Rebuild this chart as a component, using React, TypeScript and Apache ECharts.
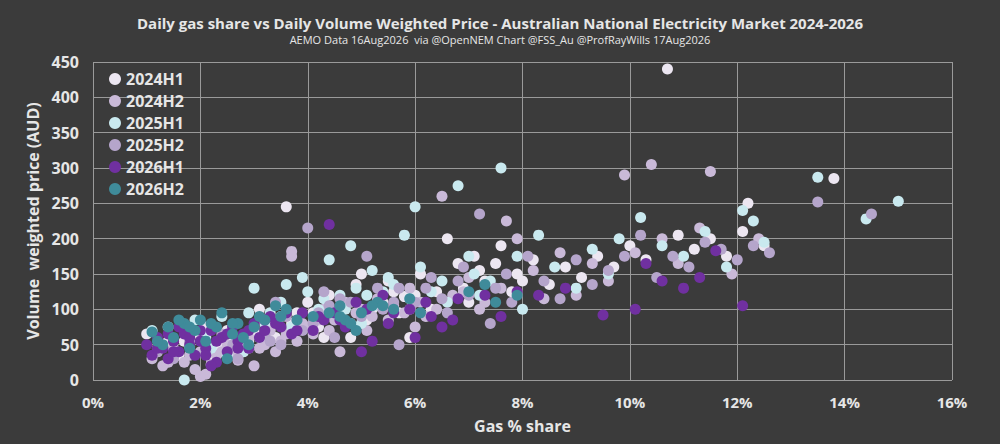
import React, { useRef, useEffect } from 'react';
import * as echarts from 'echarts';

const seriesNames = ['2024H1', '2024H2', '2025H1', '2025H2', '2026H1', '2026H2'];
const seriesColors = ['#ece6f1', '#c9b9d8', '#c9e9ef', '#b5a5cb', '#7030a0', '#3f8b9a'];

// [gas share %, price AUD]
const d2024H1 = [[1.2,40],[1.4,55],[1.6,35],[1.8,48],[2.0,62],[2.2,30],[2.4,45],[2.6,55],[2.8,40],[3.0,70],[3.2,85],[3.4,60],[3.6,245],[3.8,95],[4.0,110],[4.2,75],[4.4,120],[4.6,90],[4.9,135],[5.2,100],[5.5,140],[5.8,118],[6.1,150],[6.4,125],[6.8,165],[7.1,175],[7.3,140],[7.6,190],[7.9,150],[8.2,170],[8.5,135],[8.8,160],[9.1,145],[9.4,175],[9.7,160],[10.0,190],[10.3,170],[10.7,440],[10.9,205],[11.2,185],[11.5,200],[11.8,175],[12.1,210],[12.2,250],[12.5,190],[5.0,150],[6.6,200],[2.1,75],[1.0,65],[4.8,60],[13.8,285],
  [2.5,70],[2.9,55],[3.3,75],[3.7,80],[4.1,95],[4.3,60],[4.7,105],[5.1,85],[5.4,110],[5.7,95],[6.0,120],[6.3,100],[6.9,130],[7.2,155],[7.5,165],[7.8,125],[3.1,100],[3.5,90],[1.7,55],[2.3,50],[5.9,60],[5.6,125],[7.0,110],[8.0,140]];
const d2024H2 = [[1.1,30],[1.3,20],[1.5,45],[1.7,25],[1.9,15],[2.0,5],[2.1,8],[2.3,35],[2.5,50],[2.7,28],[2.9,60],[3.1,45],[3.3,70],[3.5,55],[3.7,175],[3.7,182],[3.9,80],[4.1,65],[4.3,100],[4.5,85],[4.7,110],[4.9,95],[5.1,70],[5.3,115],[5.6,105],[5.9,130],[6.2,90],[6.5,260],[6.7,120],[7.0,145],[7.3,110],[7.6,130],[7.7,225],[7.9,200],[8.2,155],[8.4,115],[8.7,180],[9.0,120],[9.3,165],[9.6,140],[9.9,290],[10.1,180],[10.4,305],[10.6,200],[10.9,165],[11.3,215],[11.5,295],[11.9,150],[12.4,200],[3.0,20],[4.6,40],[6.0,75],
  [1.4,25],[1.8,35],[2.2,22],[2.4,40],[2.6,38],[2.8,45],[3.2,50],[3.4,40],[3.6,65],[3.8,55],[4.0,75],[4.2,85],[4.4,70],[4.8,80],[5.0,100],[5.2,90],[5.5,85],[5.8,95],[6.1,110],[6.4,100],[6.9,125],[7.2,100],[1.2,45],[2.0,40]];
const d2025H1 = [[1.1,70],[1.4,75],[1.7,0],[1.9,85],[2.1,60],[2.4,90],[2.6,50],[2.9,95],[3.2,80],[3.5,110],[3.6,135],[3.9,145],[4.2,100],[4.4,170],[4.6,120],[4.8,190],[5.2,155],[5.4,125],[5.8,205],[6.0,245],[6.1,160],[6.5,140],[6.8,275],[7.0,175],[7.2,120],[7.6,300],[7.9,175],[8.3,205],[8.6,160],[9.0,130],[9.3,185],[9.6,150],[9.8,200],[10.2,230],[10.6,190],[11.0,175],[11.4,210],[11.8,160],[12.1,240],[12.3,225],[12.5,195],[13.5,287],[14.4,228],[15.0,253],[5.0,80],[3.0,130],[8.0,100],
  [2.8,40],[3.3,95],[3.7,75],[4.0,125],[4.3,115],[4.5,95],[4.9,130],[5.1,120],[5.3,105],[5.6,135],[5.9,115],[6.3,125],[6.6,110],[7.1,150],[7.4,140],[2.5,35],[2.2,45],[3.1,60],[4.7,100],[5.5,145]];
const d2025H2 = [[1.2,40],[1.5,30],[1.8,55],[2.1,40],[2.4,65],[2.7,30],[3.0,75],[3.3,55],[3.6,90],[3.9,70],[4.2,95],[4.5,60],[4.8,110],[5.1,175],[5.4,100],[5.7,130],[6.0,110],[6.3,145],[6.6,95],[6.9,160],[7.2,235],[7.5,130],[7.8,110],[8.1,175],[8.4,140],[8.7,115],[9.0,170],[9.3,135],[9.6,155],[9.9,175],[10.2,205],[10.5,145],[10.8,175],[11.1,160],[11.4,195],[11.7,185],[12.0,170],[12.3,190],[12.6,180],[5.7,50],[4.0,215],[7.4,80],[13.5,252],[14.5,235],
  [2.6,50],[2.9,45],[3.2,65],[3.5,50],[3.8,85],[4.1,80],[4.4,105],[4.6,115],[5.0,90],[5.3,130],[5.6,110],[5.9,100],[6.2,130],[6.5,115],[6.8,140],[7.0,120],[7.7,150],[3.4,110],[4.3,125]];
const d2026H1 = [[1.0,50],[1.1,35],[1.2,60],[1.3,45],[1.4,30],[1.5,55],[1.6,40],[1.7,65],[1.8,50],[1.9,35],[2.0,55],[2.1,45],[2.2,70],[2.3,25],[2.4,60],[2.5,40],[2.6,75],[2.7,55],[2.8,65],[2.9,45],[3.0,80],[3.1,60],[3.2,70],[3.3,90],[3.5,75],[3.7,65],[3.9,95],[4.1,70],[4.3,85],[4.4,220],[4.5,95],[4.7,75],[4.9,110],[5.0,40],[5.2,55],[5.4,120],[5.6,95],[5.9,100],[6.0,60],[6.2,110],[6.5,75],[6.8,115],[7.3,120],[7.6,90],[7.9,125],[8.3,120],[8.8,130],[9.5,92],[10.1,100],[10.3,165],[10.6,140],[11.0,130],[11.3,145],[11.6,183],[12.1,105],[1.6,75],[2.2,20],
  [1.2,45],[1.4,65],[1.5,40],[1.8,60],[2.0,70],[2.1,35],[2.3,55],[2.5,65],[2.7,45],[2.9,70],[3.2,85],[3.4,80],[3.6,95],[3.8,70],[4.2,90],[4.6,85],[5.1,100],[5.5,80],[6.3,90],[6.7,85]];
const d2026H2 = [[1.1,68],[1.3,50],[1.4,75],[1.5,60],[1.7,80],[1.8,45],[1.9,70],[2.0,85],[2.1,55],[2.3,75],[2.4,95],[2.6,65],[2.7,80],[2.9,50],[3.0,75],[3.2,85],[3.4,105],[3.6,100],[3.8,85],[4.1,90],[4.4,95],[4.6,105],[4.7,85],[4.9,70],[5.0,95],[5.3,110],[5.6,100],[5.9,115],[6.1,95],[7.0,125],[7.3,135],[7.5,110],[7.9,120],[2.5,30],
  [1.6,85],[1.8,75],[2.2,80],[2.6,80],[3.1,90],[3.5,90],[4.6,90],[4.8,80],[5.2,105],[5.4,105],[1.2,55],[2.8,60]];

const allData = [d2024H1, d2024H2, d2025H1, d2025H2, d2026H1, d2026H2];

const App = () => {
  const chartRef = useRef(null);

  useEffect(() => {
    document.body.style.margin = '0';
    const myChart = echarts.init(chartRef.current, null, { renderer: 'svg' });
    const txt = '#e6e6e6';
    const option = {
      animation: false,
      backgroundColor: '#3b3b3b',
      textStyle: { fontFamily: 'Open Sans' },
      title: {
        text: 'Daily gas share vs Daily Volume Weighted Price - Australian National Electricity Market 2024-2026',
        subtext: 'AEMO Data 16Aug2026  via @OpenNEM Chart @FSS_Au @ProfRayWills 17Aug2026',
        left: 'center',
        top: 10,
        itemGap: 4,
        textStyle: { color: txt, fontSize: 15, fontWeight: 'bold' },
        subtextStyle: { color: txt, fontSize: 11 }
      },
      legend: {
        orient: 'vertical',
        left: 104,
        top: 66,
        itemGap: 6,
        itemWidth: 12,
        itemHeight: 12,
        icon: 'circle',
        textStyle: { color: txt, fontSize: 16, fontWeight: 'bold' },
        data: seriesNames
      },
      grid: { left: 93, right: 48, top: 62, bottom: 64 },
      xAxis: {
        type: 'value',
        min: 0,
        max: 16,
        interval: 2,
        name: 'Gas % share',
        nameLocation: 'middle',
        nameGap: 38,
        nameTextStyle: { color: txt, fontSize: 16, fontWeight: 'bold' },
        axisLine: { show: false },
        axisTick: { show: false },
        axisLabel: { color: txt, fontSize: 15, fontWeight: 'bold', formatter: '{value}%', margin: 14 },
        splitLine: { lineStyle: { color: '#9a9a9a', width: 1 } }
      },
      yAxis: {
        type: 'value',
        min: 0,
        max: 450,
        interval: 50,
        name: 'Volume  weighted price (AUD)',
        nameLocation: 'middle',
        nameGap: 52,
        nameTextStyle: { color: txt, fontSize: 16, fontWeight: 'bold' },
        axisLine: { show: false },
        axisTick: { show: false },
        axisLabel: { color: txt, fontSize: 16, fontWeight: 'bold', margin: 14 },
        splitLine: { lineStyle: { color: '#9a9a9a', width: 1 } }
      },
      series: seriesNames.map((name, i) => ({
        name,
        type: 'scatter',
        symbolSize: 11,
        itemStyle: { color: seriesColors[i], opacity: 1 },
        data: allData[i]
      }))
    };
    myChart.setOption(option);
    return () => {
      myChart.dispose();
    };
  }, []);

  return <div ref={chartRef} style={{ width: '1000px', height: '444px' }} />;
};

export default App;
